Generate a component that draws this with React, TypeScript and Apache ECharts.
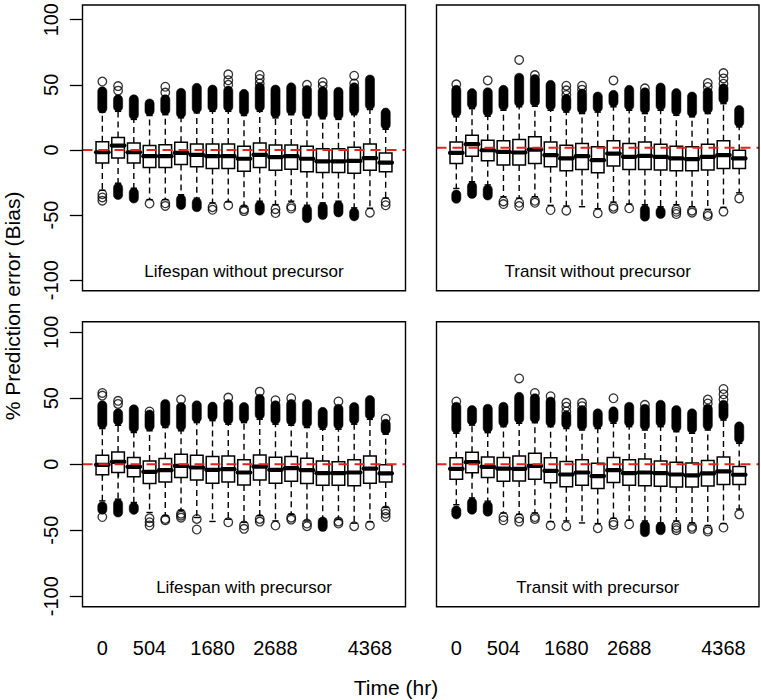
import React, { useEffect, useRef } from "react";
import * as echarts from "echarts";

// ---- categories (sampling times, hr) ----
const timeHours = ["0", "168", "336", "504", "672", "1008", "1344", "1680", "1848", "2016", "2352", "2688", "3024", "3360", "3696", "4032", "4200", "4368", "4704"];
const shownTimeLabels = ["0", "504", "1680", "2688", "4368"];
const yTicks = { min: -100, max: 100, step: 50 };

const panelTitles = ["Lifespan without precursor", "Transit without precursor", "Lifespan with precursor", "Transit with precursor"];

type Band = [number, number] | null;

// ---- Lifespan without precursor ----
const lwoQ1 = [-10, -6.3, -10, -13.6, -13.6, -11.3, -13, -14.3, -14.3, -16.3, -13.6, -15.6, -14.8, -16.8, -17.3, -17.3, -18, -15.6, -16.8];
const lwoMed = [-1.8, 3.3, -1.8, -4.8, -4.8, -2.3, -3.8, -4.8, -4.8, -6.8, -3.8, -5.5, -4.8, -6.8, -8.8, -8.8, -8.5, -6.3, -9.8];
const lwoQ3 = [6.3, 9.5, 5.3, 3.3, 4, 5.8, 4.5, 4.5, 4.5, 2.8, 5.3, 3.8, 3.8, 2.8, 0.8, 0.8, 2, 4.5, -2.3];
const lwoUpW = [29, 29.6, 23.4, 26.4, 27, 24.6, 28.4, 29.6, 29.6, 26.4, 29.6, 24.6, 27, 24.6, 23.9, 23.4, 27, 31, 15.8];
const lwoLoW = [-31, -25.6, -29.4, -38.2, -38.2, -34.4, -37, -40.7, -40, -43.2, -39.4, -42, -39.4, -42.5, -40.7, -39.4, -44.5, -44.8, -37];
const lwoUpBand: Band[] = [[31.8, 45], [33, 38.8], [26.8, 38.8], [29.8, 35.6], [30.5, 38.8], [28, 43.8], [31.8, 47.6], [33, 46.3], [33, 45.5], [29.8, 43], [33, 48], [28, 46.3], [30.4, 48], [28, 46], [27.3, 45], [26.8, 44.6], [30.4, 48], [34.4, 54], [19.2, 28.6]];
const lwoUpPts = [[52.5], [45.5, 49], [], [], [44, 48.5], [], [], [], [50, 53.5, 58], [], [51, 54.5, 57.5], [], [], [50], [49, 52], [], [51, 57], [], []];
const lwoLoBand: Band[] = [null, [-29, -34.6], [-32.8, -37.3], null, null, [-37.8, -42.3], [-40.4, -44], null, null, null, [-42.8, -46.6], null, null, [-45.9, -52.4], [-44, -50], [-42.8, -48], [-48, -51], null, null];
const lwoLoPts = [[-34, -36.5, -39], [], [], [-41.2], [-41, -43], [], [], [-44, -46], [-42.5], [-45.5, -47], [], [-45.5, -48.5], [-43.5, -45], [], [], [], [], [-48.2], [-40, -42.5]];

// ---- Transit without precursor ----
const twoQ1 = [-11.8, -6.3, -9.8, -13, -13, -11.8, -14.3, -17.3, -16.3, -18.8, -13.8, -16.3, -16.3, -16.8, -17.3, -17.3, -16.8, -15.6, -15.6];
const twoMed = [-3.8, 2.8, -1.8, -3, -3.5, -1.3, -5.5, -8, -6.3, -9.3, -4.3, -6.8, -6, -6.8, -8, -8.5, -6.8, -5.5, -8];
const twoQ3 = [4.5, 9.5, 5.8, 5.3, 6.3, 8.3, 4.5, 2, 3.3, 0.8, 5.3, 3.3, 4.5, 2.8, 1.3, 0.8, 2.8, 5.3, -1.8];
const twoUpW = [23.4, 29.6, 23.9, 28.4, 31, 31.4, 28.4, 27, 25.9, 27, 31, 28.4, 25.9, 28.4, 24.6, 23.4, 25.9, 33.4, 15.8];
const twoLoW = [-30.7, -25.6, -28, -37, -38, -37, -43.5, -44, -44.5, -46, -41, -42.5, -43, -44.5, -43, -44.5, -46.5, -45, -34];
const twoUpBand: Band[] = [[26.8, 43.8], [33, 41.3], [27.3, 42], [31.8, 43.8], [34.4, 53], [34.8, 52], [31.8, 47.6], [30.4, 37], [29.3, 41], [30.4, 38.8], [34.4, 40], [31.8, 43.8], [29.3, 42], [31.8, 45.6], [28, 41.3], [26.8, 38.8], [29.3, 42], [36.8, 45], [19.2, 28.6]];
const twoUpPts = [[48], [], [51], [], [66.5], [55], [], [40, 43.5, 47], [44, 47], [], [51], [], [45], [], [], [], [46, 49], [48.5, 52.5, 56.5], []];
const twoLoBand: Band[] = [[-35.3, -38.5], [-29, -34.8], [-31.5, -36], null, null, null, null, null, null, null, null, null, [-46.6, -52], [-47.9, -50], null, null, null, null, null];
const twoLoPts = [[], [], [], [-40.5, -42.5], [-41.5, -44], [-40, -41.5], [-47], [-47.5], [], [-49.5], [-44.5, -46], [-45.7], [], [], [-46.6, -48.3, -50], [-47.5, -49], [-50, -51.5], [-48.2], [-38.2]];

// ---- Lifespan with precursor ----
const lwQ1 = [-8, -6.3, -9.6, -14.6, -13.4, -10, -12, -14.4, -13.4, -15.7, -12, -14.4, -13, -14.6, -16, -16, -16.4, -14.4, -13.4];
const lwMed = [-0.5, 1.8, -2, -5.8, -4.5, -1.3, -2.5, -4.3, -3.8, -6.3, -1.8, -4.3, -3, -4.5, -6.8, -6.8, -6.3, -3.3, -7];
const lwQ3 = [6.8, 9.3, 5, 2.5, 4.3, 7.6, 6.8, 5.8, 6.3, 3.3, 7, 5.3, 5.8, 4.5, 2.5, 1.8, 3.3, 6.3, -0.5];
const lwUpW = [27, 29.5, 24, 25.3, 27.8, 25.3, 31.5, 33, 30.3, 31.5, 34, 30.3, 29.5, 27.8, 26.5, 26.5, 30.3, 34, 22.7];
const lwLoW = [-27.8, -26.5, -29, -36.6, -39, -35, -40.4, -43.4, -41.7, -44, -39, -43, -38, -43, -41.7, -41.7, -44.7, -43.7, -32.8];
const lwUpBand: Band[] = [[30.4, 44.6], [33, 38.6], [27.4, 41.6], [28.7, 37.6], [31.2, 45.6], [28.7, 43.3], [34.9, 44.6], [36.4, 43.6], [33.7, 45.6], [34.9, 43.3], [37.4, 49.6], [33.7, 44.6], [33, 45.6], [31.2, 45.6], [29.9, 39.6], [29.9, 42], [33.7, 43.3], [37.4, 48.6], [26, 30.6]];
const lwUpPts = [[52, 54], [45.7, 48], [], [40], [], [49], [], [], [50.5], [], [55], [48.5], [50], [], [], [47.5], [], [], [34.5]];
const lwLoBand: Band[] = [[-31.9, -34.5], [-30, -36.6], [-32.4, -34.6], null, null, null, null, null, null, null, null, null, null, null, [-43.5, -47.5], null, null, null, null];
const lwLoPts = [[-40], [], [], [-41, -44, -46.5], [-41.5, -42.5], [-37.5, -39, -40.5], [-41.5, -49.5], [], [-44], [-46.5, -49], [-41.5, -43.5], [-46.5], [-40.5, -42], [-45, -47], [], [-43.5, -45], [-47], [-46.5], [-35, -37.5, -40]];

// ---- Transit with precursor ----
const twQ1 = [-11.5, -6.5, -10, -13, -12.8, -11.5, -14, -17, -16, -18.5, -13.8, -16, -16.3, -16.8, -17.3, -17.3, -16.5, -15.3, -15.3];
const twMed = [-3.5, 1.5, -2, -3.3, -3.5, -1.3, -5, -7.8, -6.3, -9, -4.5, -6.8, -6.3, -6.8, -7.8, -8.5, -7, -5.5, -8];
const twQ3 = [4.8, 9, 5.5, 5, 6.3, 8.3, 4.8, 2, 3.3, 0.8, 5, 3.3, 4, 2.5, 1.5, 1, 2.8, 5.5, -1.8];
const twUpW = [23.4, 29.6, 23.9, 28.4, 31, 31.4, 28.4, 27, 25.9, 27, 31, 28.4, 25.9, 28.4, 24.6, 23.4, 25.9, 33.4, 15.8];
const twLoW = [-30.7, -25.6, -28, -37, -38, -37, -43.5, -43, -44.5, -45, -41, -42.5, -43, -44.5, -43, -44.5, -46.5, -45, -34];
const twUpBand: Band[] = [[26.8, 43.5], [33, 41], [27.3, 42], [31.8, 43.5], [34.4, 51], [34.8, 50], [31.8, 47.5], [30.4, 37], [29.3, 41], [30.4, 38.5], [34.4, 40], [31.8, 43.5], [29.3, 42], [31.8, 45], [28, 41], [26.8, 38.5], [29.3, 42], [36.8, 45], [19.2, 28.6]];
const twUpPts = [[47.5], [], [], [], [65], [54], [51.5], [40, 43.5, 46.5], [44, 46.5], [], [50], [], [45], [], [], [], [46, 49], [49, 53, 57], []];
const twLoBand: Band[] = [[-35, -38], [-29, -34.5], [-31.5, -36], null, null, null, null, null, null, null, null, null, [-46.5, -51.5], [-47.5, -50], null, null, null, null, null];
const twLoPts = [[], [], [], [-40, -42.5], [-41, -43.5], [-40, -41.5], [-46.5], [-47], [], [-48.5], [-44, -46], [-45.5], [], [], [-46.5, -48.3, -50], [-47.5, -49], [-49.5, -51], [-48], [-38]];

const panels = [
  { q1: lwoQ1, med: lwoMed, q3: lwoQ3, upW: lwoUpW, loW: lwoLoW, upBand: lwoUpBand, upPts: lwoUpPts, loBand: lwoLoBand, loPts: lwoLoPts },
  { q1: twoQ1, med: twoMed, q3: twoQ3, upW: twoUpW, loW: twoLoW, upBand: twoUpBand, upPts: twoUpPts, loBand: twoLoBand, loPts: twoLoPts },
  { q1: lwQ1, med: lwMed, q3: lwQ3, upW: lwUpW, loW: lwLoW, upBand: lwUpBand, upPts: lwUpPts, loBand: lwLoBand, loPts: lwLoPts },
  { q1: twQ1, med: twMed, q3: twQ3, upW: twUpW, loW: twLoW, upBand: twUpBand, upPts: twUpPts, loBand: twLoBand, loPts: twLoPts },
];

// ---- layout (pixels) ----
const FRAMES = [
  { x: 82.5, y: 5, w: 323, h: 285.7 },
  { x: 436.5, y: 5, w: 322.5, h: 285.7 },
  { x: 82.5, y: 321.7, w: 323, h: 285 },
  { x: 436.5, y: 321.7, w: 322.5, h: 285 },
];
const FONT = "'Liberation Sans', Arial, Helvetica, sans-serif";
const X_EXT = 0.76 / 20.52; // R's 4% axis extension beyond 0.5..n+0.5
const Y_EXT = 8 / 216;

function renderBox(params: any, api: any) {
  const j = api.value(0);
  const pLoW = api.coord([j, api.value(1)]);
  const pQ1 = api.coord([j, api.value(2)]);
  const pMed = api.coord([j, api.value(3)]);
  const pQ3 = api.coord([j, api.value(4)]);
  const pUpW = api.coord([j, api.value(5)]);
  const band = api.size([1, 0])[0];
  const bw = band * 0.8;
  const half = bw / 2;
  const st = bw / 4;
  const cx = pMed[0];
  const dashed = { stroke: "#000", lineWidth: 1.4, lineDash: [6, 4] };
  const solid = { stroke: "#000", lineWidth: 1.4 };
  return {
    type: "group",
    children: [
      { type: "line", shape: { x1: cx, y1: pQ3[1], x2: cx, y2: pUpW[1] }, style: dashed },
      { type: "line", shape: { x1: cx, y1: pQ1[1], x2: cx, y2: pLoW[1] }, style: dashed },
      { type: "line", shape: { x1: cx - st, y1: pUpW[1], x2: cx + st, y2: pUpW[1] }, style: solid },
      { type: "line", shape: { x1: cx - st, y1: pLoW[1], x2: cx + st, y2: pLoW[1] }, style: solid },
      { type: "rect", shape: { x: cx - half, y: pQ3[1], width: bw, height: pQ1[1] - pQ3[1] }, style: { fill: "#fff", stroke: "#000", lineWidth: 1.5 } },
      { type: "line", shape: { x1: cx - half, y1: pMed[1], x2: cx + half, y2: pMed[1] }, style: { stroke: "#000", lineWidth: 4.2, lineCap: "round" } },
    ],
  };
}

function renderBand(params: any, api: any) {
  const j = api.value(0);
  const a = api.value(1);
  const b = api.value(2);
  const pTop = api.coord([j, Math.max(a, b)]);
  const pBot = api.coord([j, Math.min(a, b)]);
  const R = 4.6;
  return {
    type: "rect",
    shape: { x: pTop[0] - R, y: pTop[1] - R, width: 2 * R, height: pBot[1] - pTop[1] + 2 * R, r: R },
    style: { fill: "#000", stroke: "#000", lineWidth: 0.5 },
  };
}

export default function App() {
  const ref = useRef<HTMLDivElement>(null);
  useEffect(() => {
    document.body.style.margin = "0";
    if (!ref.current) return;
    const chart = echarts.init(ref.current, undefined, { renderer: "svg" });

    const grids: any[] = [];
    const xAxes: any[] = [];
    const yAxes: any[] = [];
    const series: any[] = [];

    FRAMES.forEach((f, i) => {
      const padX = f.w * X_EXT;
      const padY = f.h * Y_EXT;
      const isBottom = i >= 2;
      const isLeft = i % 2 === 0;
      grids.push({ left: f.x + padX, top: f.y + padY, width: f.w - 2 * padX, height: f.h - 2 * padY, containLabel: false });
      xAxes.push({
        type: "category",
        gridIndex: i,
        data: timeHours,
        boundaryGap: true,
        offset: padY,
        axisLine: { show: false },
        axisTick: { show: isBottom, interval: 0, alignWithLabel: true, length: 12.7, lineStyle: { color: "#000", width: 1.3 } },
        axisLabel: {
          show: isBottom,
          interval: (idx: number, val: string) => shownTimeLabels.includes(val),
          fontSize: 20,
          fontFamily: FONT,
          color: "#000",
          margin: 31,
        },
        splitLine: { show: false },
      });
      yAxes.push({
        type: "value",
        gridIndex: i,
        min: yTicks.min,
        max: yTicks.max,
        interval: yTicks.step,
        offset: padX,
        axisLine: { show: false },
        axisTick: { show: isLeft, length: 12.7, lineStyle: { color: "#000", width: 1.3 } },
        axisLabel: { show: isLeft, rotate: 90, fontSize: 20, fontFamily: FONT, color: "#000", margin: 22 },
        splitLine: { show: false },
      });

      const p = panels[i];
      const boxData = timeHours.map((_, j) => [j, p.loW[j], p.q1[j], p.med[j], p.q3[j], p.upW[j]]);
      const bandData: number[][] = [];
      const ptData: number[][] = [];
      timeHours.forEach((_, j) => {
        const ub = p.upBand[j];
        if (ub) bandData.push([j, ub[0], ub[1]]);
        const lb = p.loBand[j];
        if (lb) bandData.push([j, lb[0], lb[1]]);
        p.upPts[j].forEach((v) => ptData.push([j, v]));
        p.loPts[j].forEach((v) => ptData.push([j, v]));
      });
      series.push({
        type: "custom",
        xAxisIndex: i,
        yAxisIndex: i,
        renderItem: renderBox,
        encode: { x: 0, y: [1, 2, 3, 4, 5] },
        data: boxData,
        z: 2,
      });
      series.push({
        type: "custom",
        xAxisIndex: i,
        yAxisIndex: i,
        renderItem: renderBand,
        encode: { x: 0, y: [1, 2] },
        data: bandData,
        z: 3,
      });
      series.push({
        type: "scatter",
        xAxisIndex: i,
        yAxisIndex: i,
        symbol: "circle",
        symbolSize: 8.6,
        itemStyle: { color: "rgba(0,0,0,0)", borderColor: "#000", borderWidth: 1.3 },
        data: ptData,
        z: 4,
      });
    });

    chart.setOption({
      animation: false,
      backgroundColor: "#fff",
      textStyle: { fontFamily: FONT, color: "#000" },
      grid: grids,
      xAxis: xAxes,
      yAxis: yAxes,
      series,
    });

    const elements: any[] = [];
    FRAMES.forEach((f, i) => {
      const pt = chart.convertToPixel({ gridIndex: i } as any, [0, 0]) as unknown as number[];
      const y0 = pt[1];
      elements.push({
        type: "line",
        z: 100,
        silent: true,
        shape: { x1: f.x, y1: y0, x2: f.x + f.w, y2: y0 },
        style: { stroke: "#e3231c", lineWidth: 2, lineDash: [10, 6] },
      });
      elements.push({
        type: "rect",
        z: 101,
        silent: true,
        shape: { x: f.x, y: f.y, width: f.w, height: f.h },
        style: { fill: "none", stroke: "#000", lineWidth: 1.4 },
      });
      elements.push({
        type: "text",
        z: 101,
        x: f.x + f.w / 2,
        y: f.y + f.h - 19,
        style: { text: panelTitles[i], fontSize: 17, fontFamily: FONT, fill: "#000", align: "center", verticalAlign: "middle" },
      });
    });
    elements.push({
      type: "text",
      z: 101,
      x: 396,
      y: 687,
      style: { text: "Time (hr)", fontSize: 21, fontFamily: FONT, fill: "#000", align: "center", verticalAlign: "middle" },
    });
    elements.push({
      type: "text",
      z: 101,
      x: 12,
      y: 306,
      rotation: Math.PI / 2,
      style: { text: "% Prediction error (Bias)", fontSize: 21, fontFamily: FONT, fill: "#000", align: "center", verticalAlign: "middle" },
    });
    chart.setOption({ graphic: { elements } });

    return () => chart.dispose();
  }, []);
  return <div ref={ref} style={{ width: 761, height: 700 }} />;
}
